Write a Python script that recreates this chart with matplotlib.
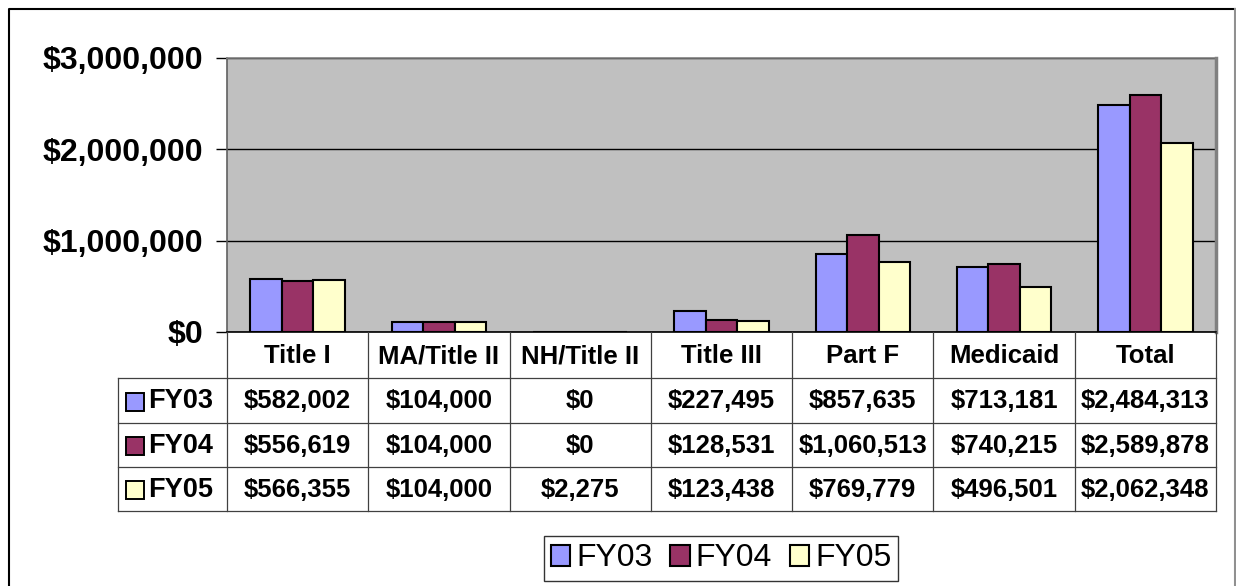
import matplotlib
matplotlib.use("Agg")
import matplotlib.pyplot as plt
from matplotlib.patches import Rectangle
import numpy as np

categories = ["Title I", "MA/Title II", "NH/Title II", "Title III", "Part F", "Medicaid", "Total"]
series_names = ["FY03", "FY04", "FY05"]
fy03 = [582002, 104000, 0, 227495, 857635, 713181, 2484313]
fy04 = [556619, 104000, 0, 128531, 1060513, 740215, 2589878]
fy05 = [566355, 104000, 2275, 123438, 769779, 496501, 2062348]
colors = ["#9999FF", "#993366", "#FFFFCC"]
yticks = [0, 1000000, 2000000, 3000000]

plt.rcParams['font.family'] = ['Liberation Sans', 'DejaVu Sans']

W, H = 1236, 586
fig = plt.figure(figsize=(W / 100, H / 100), dpi=100)

# plot area in pixels
px_l, px_r, px_t, px_b = 227, 1216, 57.5, 332
ax = fig.add_axes([px_l / W, 1 - px_b / H, (px_r - px_l) / W, (px_b - px_t) / H])
ax.set_facecolor("#C0C0C0")
n = len(categories)
x = np.arange(n)
bw = 0.223
series = [fy03, fy04, fy05]
bars = []
for i, (vals, c, name) in enumerate(zip(series, colors, series_names)):
    b = ax.bar(x + (i - 1) * bw, vals, width=bw, color=c, edgecolor="black",
               linewidth=1.5, label=name, zorder=3)
    bars.append(b)
ax.set_xlim(-0.5, n - 0.5)
ax.set_ylim(0, 3000000)
ax.set_yticks(yticks)
ax.set_yticklabels(["${:,}".format(v) for v in yticks], fontsize=23, fontweight="bold")
ax.tick_params(axis="y", length=8, width=1, pad=9, color="black")
ax.tick_params(axis="x", bottom=False, labelbottom=False)
ax.grid(axis="y", color="black", linewidth=1, zorder=1)
ax.spines["top"].set_color("#808080"); ax.spines["top"].set_linewidth(1.2)
ax.spines["right"].set_color("#808080"); ax.spines["right"].set_linewidth(2.5)
ax.spines["left"].set_color("#606060"); ax.spines["left"].set_linewidth(1.2)
ax.spines["bottom"].set_color("black"); ax.spines["bottom"].set_linewidth(1.2)

# overlay axes in pixel coordinates for frame and data table
ov = fig.add_axes([0, 0, 1, 1], zorder=5)
ov.set_xlim(0, W); ov.set_ylim(H, 0); ov.axis("off"); ov.patch.set_alpha(0)

# outer frame
ov.plot([9, 9, 1235], [H, 9, 9], color="black", lw=1.5)
ov.plot([1235, 1235], [9, H], color="#909090", lw=1.5)

# table geometry
col_edges = np.linspace(px_l, px_r, n + 1)
row_edges = [332, 378, 423, 467, 511]
lab_l = 118
lc = "#404040"
for xe in col_edges:
    ov.plot([xe, xe], [row_edges[0], row_edges[-1]], color=lc, lw=0.9)
ov.plot([lab_l, lab_l], [row_edges[1], row_edges[-1]], color=lc, lw=0.9)
for ye in row_edges[1:]:
    ov.plot([lab_l, px_r], [ye, ye], color=lc, lw=0.9)

tfs = 18.5
for j, cat in enumerate(categories):
    cx = (col_edges[j] + col_edges[j + 1]) / 2
    ov.text(cx, (row_edges[0] + row_edges[1]) / 2 + 1, cat, ha="center", va="center",
            fontsize=tfs, fontweight="bold")
for i, (vals, c, name) in enumerate(zip(series, colors, series_names)):
    cy = (row_edges[i + 1] + row_edges[i + 2]) / 2 + 1
    ov.add_patch(Rectangle((126, cy - 9), 18, 18, facecolor=c, edgecolor="black", lw=1.4))
    ov.text(148, cy, name, ha="left", va="center", fontsize=tfs + 1, fontweight="bold")
    for j, v in enumerate(vals):
        cx = (col_edges[j] + col_edges[j + 1]) / 2
        ov.text(cx, cy, "${:,}".format(v), ha="center", va="center",
                fontsize=tfs, fontweight="bold")

leg = fig.legend(handles=bars, labels=series_names, loc="center",
                 bbox_to_anchor=(721 / W, 1 - 558.5 / H), ncol=3, fontsize=23,
                 frameon=True, fancybox=False, edgecolor="black",
                 handlelength=0.62, handleheight=0.62, handletextpad=0.18,
                 columnspacing=0.55, borderpad=0.22, borderaxespad=0)
leg.get_frame().set_linewidth(1.0)

fig.savefig("out.png", dpi=100)
